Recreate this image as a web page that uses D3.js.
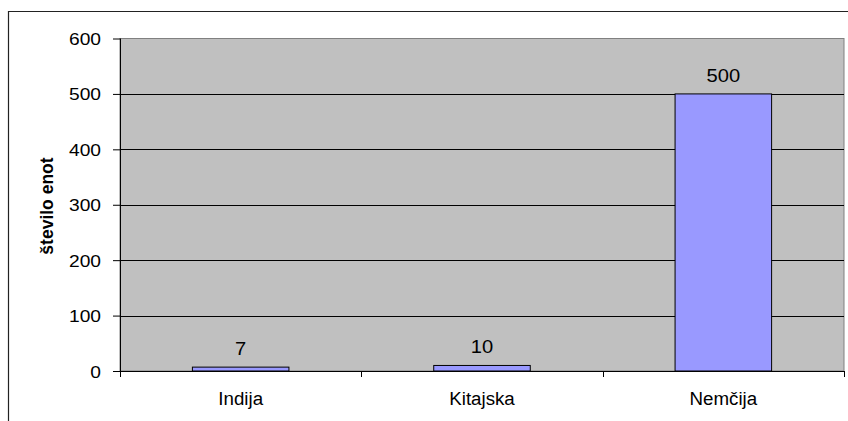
<!DOCTYPE html>
<html>
<head>
<meta charset="utf-8">
<script src="https://cdn.jsdelivr.net/npm/d3@7"></script>
<style>
  html, body { margin: 0; padding: 0; background: #fff; }
  svg { display: block; font-family: "Liberation Sans", Arial, sans-serif; }
</style>
</head>
<body>
<svg id="chart" width="848" height="421"></svg>
<script>
// Data
const categories = ["Indija", "Kitajska", "Nemčija"];
const values = [7, 10, 500];
const yTicks = [0, 100, 200, 300, 400, 500, 600];
const yTitle = "število enot";

const svg = d3.select("#chart");
const W = 848, H = 421;
const plot = { left: 120, top: 38.5, right: 844, bottom: 371 };

// Outer chart frame (extends beyond the visible page on right and bottom)
svg.append("path")
  .attr("d", `M8.5,${H + 2} L8.5,11.5 L${W + 2},11.5`)
  .attr("fill", "none")
  .attr("stroke", "#222")
  .attr("stroke-width", 1.2);

const x = d3.scaleBand().domain(categories).range([plot.left, plot.right]).paddingInner(0).paddingOuter(0);
const y = d3.scaleLinear().domain([0, 600]).range([plot.bottom, plot.top]);

// Plot background
svg.append("rect")
  .attr("x", plot.left).attr("y", plot.top)
  .attr("width", plot.right - plot.left).attr("height", plot.bottom - plot.top)
  .attr("fill", "#c0c0c0")
  .attr("stroke", "#808080")
  .attr("stroke-width", 1);

// Horizontal gridlines
svg.append("g").selectAll("line")
  .data(yTicks.filter(t => t > 0 && t < 600))
  .join("line")
  .attr("x1", plot.left).attr("x2", plot.right)
  .attr("y1", d => Math.round(y(d)) + 0.5).attr("y2", d => Math.round(y(d)) + 0.5)
  .attr("stroke", "#000").attr("stroke-width", 1);

// Bars
const barW = x.bandwidth() * 0.4;
svg.append("g").selectAll("rect")
  .data(values)
  .join("rect")
  .attr("x", (d, i) => x(categories[i]) + (x.bandwidth() - barW) / 2)
  .attr("y", d => y(d))
  .attr("width", barW)
  .attr("height", d => y(0) - y(d))
  .attr("fill", "#9999ff")
  .attr("stroke", "#000")
  .attr("stroke-width", 1);

// Horizontally stretched text helper
function stretchedText(g, px, py, str, size, sx, anchor, weight) {
  const t = g.append("g").attr("transform", `translate(${px},${py}) scale(${sx},1)`)
    .append("text")
    .attr("text-anchor", anchor)
    .attr("font-size", size)
    .attr("fill", "#000")
    .text(str);
  if (weight) t.attr("font-weight", weight);
  return t;
}

// Value labels
const vl = svg.append("g");
values.forEach((v, i) => {
  stretchedText(vl, x(categories[i]) + x.bandwidth() / 2, y(v) - 12, String(v), 18, 1.12, "middle");
});

// Y axis
const yAxis = d3.axisLeft(y).tickValues(yTicks).tickSize(7).tickPadding(0).tickFormat(d3.format("d"));
const ya = svg.append("g").attr("transform", `translate(${plot.left},0)`).call(yAxis);
ya.select(".domain").attr("stroke", "#000").attr("d", `M0.5,${plot.top}V${plot.bottom}`);
ya.selectAll(".tick line").attr("stroke", "#000");
ya.selectAll(".tick text").remove();
ya.selectAll(".tick").each(function (d) {
  stretchedText(d3.select(this), -19, 6, String(d), 16, 1.2, "end");
});

// X axis
const xa = svg.append("g").attr("transform", `translate(0,${plot.bottom})`);
xa.append("line")
  .attr("x1", plot.left).attr("x2", plot.right)
  .attr("y1", 0.5).attr("y2", 0.5)
  .attr("stroke", "#000");
const bounds = categories.map(c => x(c)).concat([x(categories[categories.length - 1]) + x.bandwidth()]);
xa.selectAll("line.tk")
  .data(bounds)
  .join("line")
  .attr("class", "tk")
  .attr("x1", d => Math.round(d) + 0.5).attr("x2", d => Math.round(d) + 0.5)
  .attr("y1", 0).attr("y2", 6)
  .attr("stroke", "#000");
categories.forEach(c => {
  stretchedText(xa, x(c) + x.bandwidth() / 2, 34, c, 18, 1.04, "middle");
});

// Y axis title
svg.append("text")
  .attr("transform", `translate(53,206) rotate(-90)`)
  .attr("text-anchor", "middle")
  .attr("font-size", 17.5)
  .attr("font-weight", "bold")
  .attr("fill", "#000")
  .text(yTitle);
</script>
</body>
</html>
